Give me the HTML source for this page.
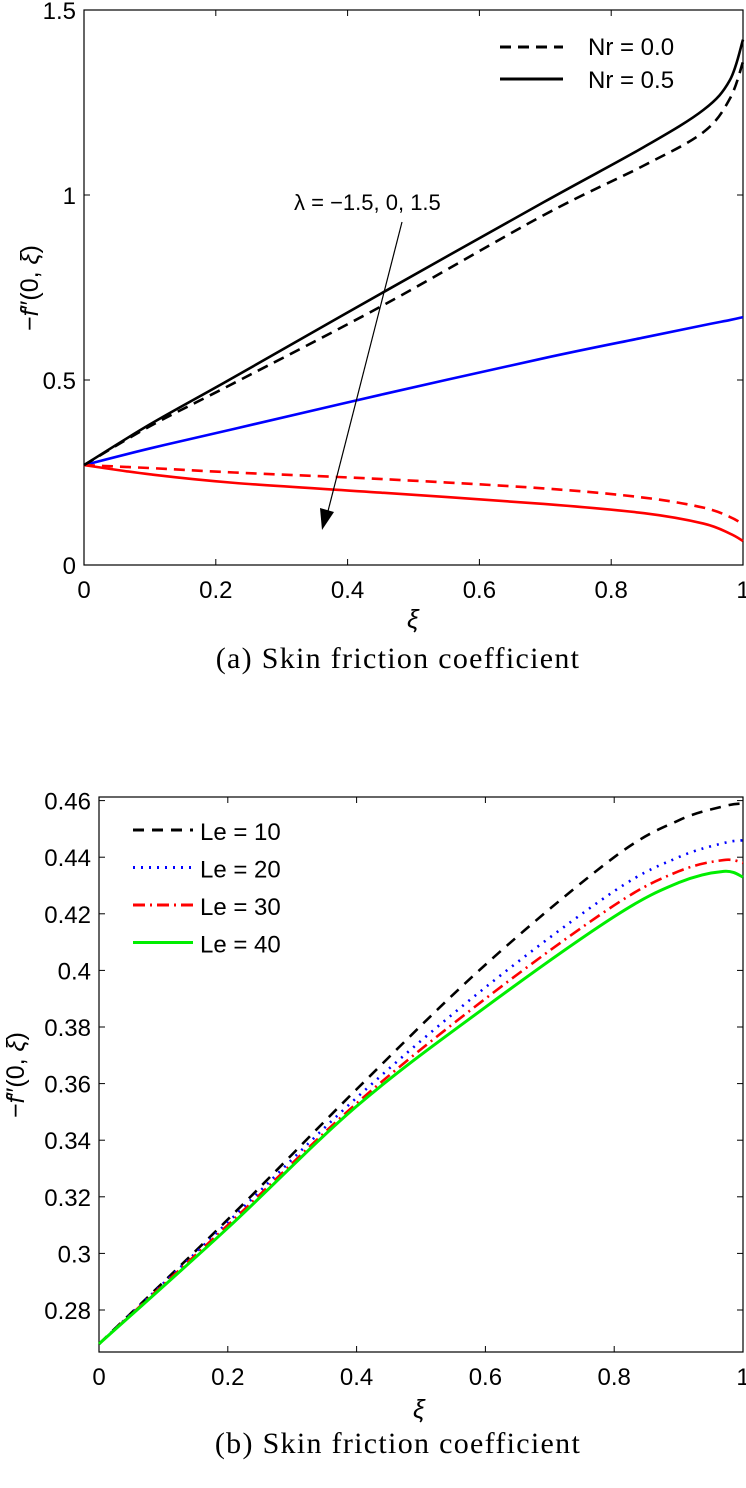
<!DOCTYPE html>
<html><head><meta charset="utf-8"><style>
body{margin:0;background:#fff;width:746px;height:1488px;overflow:hidden}
svg{display:block}
text{font-family:"Liberation Sans",sans-serif}
.cap{font-family:"Liberation Serif",serif;font-size:30px;letter-spacing:1.3px}
</style></head><body>
<svg id="s" width="746" height="1488"></svg>
<script>
const xsA=[0,0.1,0.228,0.455,0.698,0.85,0.94,0.98,1];
const a_nr05=[0.27,0.38,0.508,0.738,0.981,1.13,1.23,1.31,1.42];
const a_nr0=[0.27,0.375,0.492,0.703,0.946,1.08,1.17,1.26,1.36];
const a_blue=[0.27,0.315,0.368,0.462,0.559,0.615,0.648,0.662,0.67];
const a_redDash=[0.27,0.262,0.25,0.232,0.207,0.182,0.155,0.13,0.11];
const a_redSolid=[0.27,0.245,0.222,0.195,0.165,0.14,0.112,0.085,0.065];
const ticksAx=[0,0.2,0.4,0.6,0.8,1];
const ticksAy=[0,0.5,1,1.5];
const xsB=[0,0.2,0.4,0.6,0.8,0.9,0.97,1];
const b_le10=[0.268,0.312,0.358,0.402,0.440,0.453,0.458,0.459];
const b_le20=[0.268,0.311,0.355,0.394,0.428,0.440,0.445,0.446];
const b_le30=[0.268,0.310,0.353,0.390,0.423,0.435,0.439,0.438];
const b_le40=[0.268,0.309,0.352,0.387,0.419,0.431,0.435,0.433];
const ticksBy=[0.28,0.3,0.32,0.34,0.36,0.38,0.4,0.42,0.44,0.46];
const NS="http://www.w3.org/2000/svg";
const svg=document.getElementById('s');
function el(t,at,p){const e=document.createElementNS(NS,t);for(const k in at)e.setAttribute(k,at[k]);(p||svg).appendChild(e);return e;}
function path(xs,ys,sx,sy){const P=xs.map((x,i)=>[sx(x),sy(ys[i])]);let d=`M${P[0][0]},${P[0][1]}`;
for(let i=0;i<P.length-1;i++){const p0=P[Math.max(0,i-1)],p1=P[i],p2=P[i+1],p3=P[Math.min(P.length-1,i+2)];
d+=` C${p1[0]+(p2[0]-p0[0])/6},${p1[1]+(p2[1]-p0[1])/6} ${p2[0]-(p3[0]-p1[0])/6},${p2[1]-(p3[1]-p1[1])/6} ${p2[0]},${p2[1]}`;}return d;}
function axes(L,R,T,B,sx,sy,xt,yt,fmt,name){
 const g=el('g',{});
 
 
 el('rect',{x:L,y:T,width:R-L,height:B-T,fill:'none',stroke:'#000','stroke-width':1.2},g);
 xt.forEach(v=>{const x=sx(v);el('line',{x1:x,x2:x,y1:B,y2:B-6,stroke:'#000'},g);el('line',{x1:x,x2:x,y1:T,y2:T+6,stroke:'#000'},g);
  const t=el('text',{x:x,y:B+33,'font-size':24,'text-anchor':'middle'},g);t.textContent=String(v);
  
  });
 yt.forEach(v=>{const y=sy(v);el('line',{x1:L,x2:L+6,y1:y,y2:y,stroke:'#000'},g);el('line',{x1:R,x2:R-6,y1:y,y2:y,stroke:'#000'},g);
  const t=el('text',{x:L-8,y:y+9,'font-size':24,'text-anchor':'end'},g);t.textContent=fmt(v);
  
  });
 return g;}
function line(d,color,dash,name,w){const p=el('path',{d:d,fill:'none',stroke:color,'stroke-width':w||2.6,'stroke-dasharray':dash||'none'});
 
 }
// Chart A
const AL=84,AR=743,AT=10,AB=565;
const sxA=v=>AL+v*(AR-AL), syA=v=>AB-v/1.5*(AB-AT);
axes(AL,AR,AT,AB,sxA,syA,ticksAx,ticksAy,v=>String(v),'axes-a');
line(path(xsA,a_blue,sxA,syA),'#0000ff',null,'line-a-blue');
line(path(xsA,a_redDash,sxA,syA),'#ff0000','11 7','line-a-red-nr0');
line(path(xsA,a_redSolid,sxA,syA),'#ff0000',null,'line-a-red-nr05');
line(path(xsA,a_nr0,sxA,syA),'#000','11 7','line-a-black-nr0');
line(path(xsA,a_nr05,sxA,syA),'#000',null,'line-a-black-nr05');
// legend A
line('M500,47 L563,47','#000','11 7','legend-a-dash',3);
line('M500,79 L563,79','#000',null,'legend-a-solid',3);
let t=el('text',{x:588,y:55,'font-size':24});t.textContent='Nr = 0.0';

t=el('text',{x:588,y:88,'font-size':24});t.textContent='Nr = 0.5';

t=el('text',{x:294,y:210,'font-size':22});t.textContent='λ = −1.5, 0, 1.5';

line('M402,222 L327,515','#000',null,'annotation-arrow',1.2);
const ar=el('path',{d:'M322,530 L320,508 L334,512 Z',fill:'#000'});

t=el('text',{x:407,y:628,'font-size':26,'font-style':'italic','font-family':'Liberation Serif'});t.textContent='ξ';

t=el('text',{x:0,y:0,'font-size':25,'font-family':'Liberation Serif','text-anchor':'middle',transform:'translate(38,288) rotate(-90)'});t.innerHTML="−<tspan font-style='italic'>f</tspan>″(0, <tspan font-style='italic'>ξ</tspan>)";

t=el('text',{x:398,y:668,'text-anchor':'middle',class:'cap'});t.textContent='(a)  Skin friction coefficient';

// Chart B
const BL=99,BR=743,BT=797,BB=1352;
const sxB=v=>BL+v*(BR-BL), syB=v=>1310-(v-0.28)/0.02*56.6;
axes(BL,BR,BT,BB,sxB,syB,ticksAx,ticksBy,v=>String(+v.toFixed(2)),'axes-b');
line(path(xsB,b_le10,sxB,syB),'#000','11 8','line-le10');
line(path(xsB,b_le20,sxB,syB),'#0000ff','2 6','line-le20');
line(path(xsB,b_le30,sxB,syB),'#ff0000','12 5 2 5','line-le30');
line(path(xsB,b_le40,sxB,syB),'#00ee00',null,'line-le40',3);
const leg=[['#000','11 8','Le = 10'],['#0000ff','2 6','Le = 20'],['#ff0000','12 5 2 5','Le = 30'],['#00ee00',null,'Le = 40']];
leg.forEach((l,i)=>{const y=830+i*37.5;line(`M133,${y} L193,${y}`,l[0],l[1],'legend-b-swatch',3);
 const tt=el('text',{x:200,y:y+10,'font-size':24});tt.textContent=l[2];
 });
t=el('text',{x:413,y:1418,'font-size':26,'font-style':'italic','font-family':'Liberation Serif'});t.textContent='ξ';

t=el('text',{x:0,y:0,'font-size':25,'font-family':'Liberation Serif','text-anchor':'middle',transform:'translate(24,1075) rotate(-90)'});t.innerHTML="−<tspan font-style='italic'>f</tspan>″(0, <tspan font-style='italic'>ξ</tspan>)";

t=el('text',{x:398,y:1453,'text-anchor':'middle',class:'cap'});t.textContent='(b)  Skin friction coefficient';

</script>
</body></html>
